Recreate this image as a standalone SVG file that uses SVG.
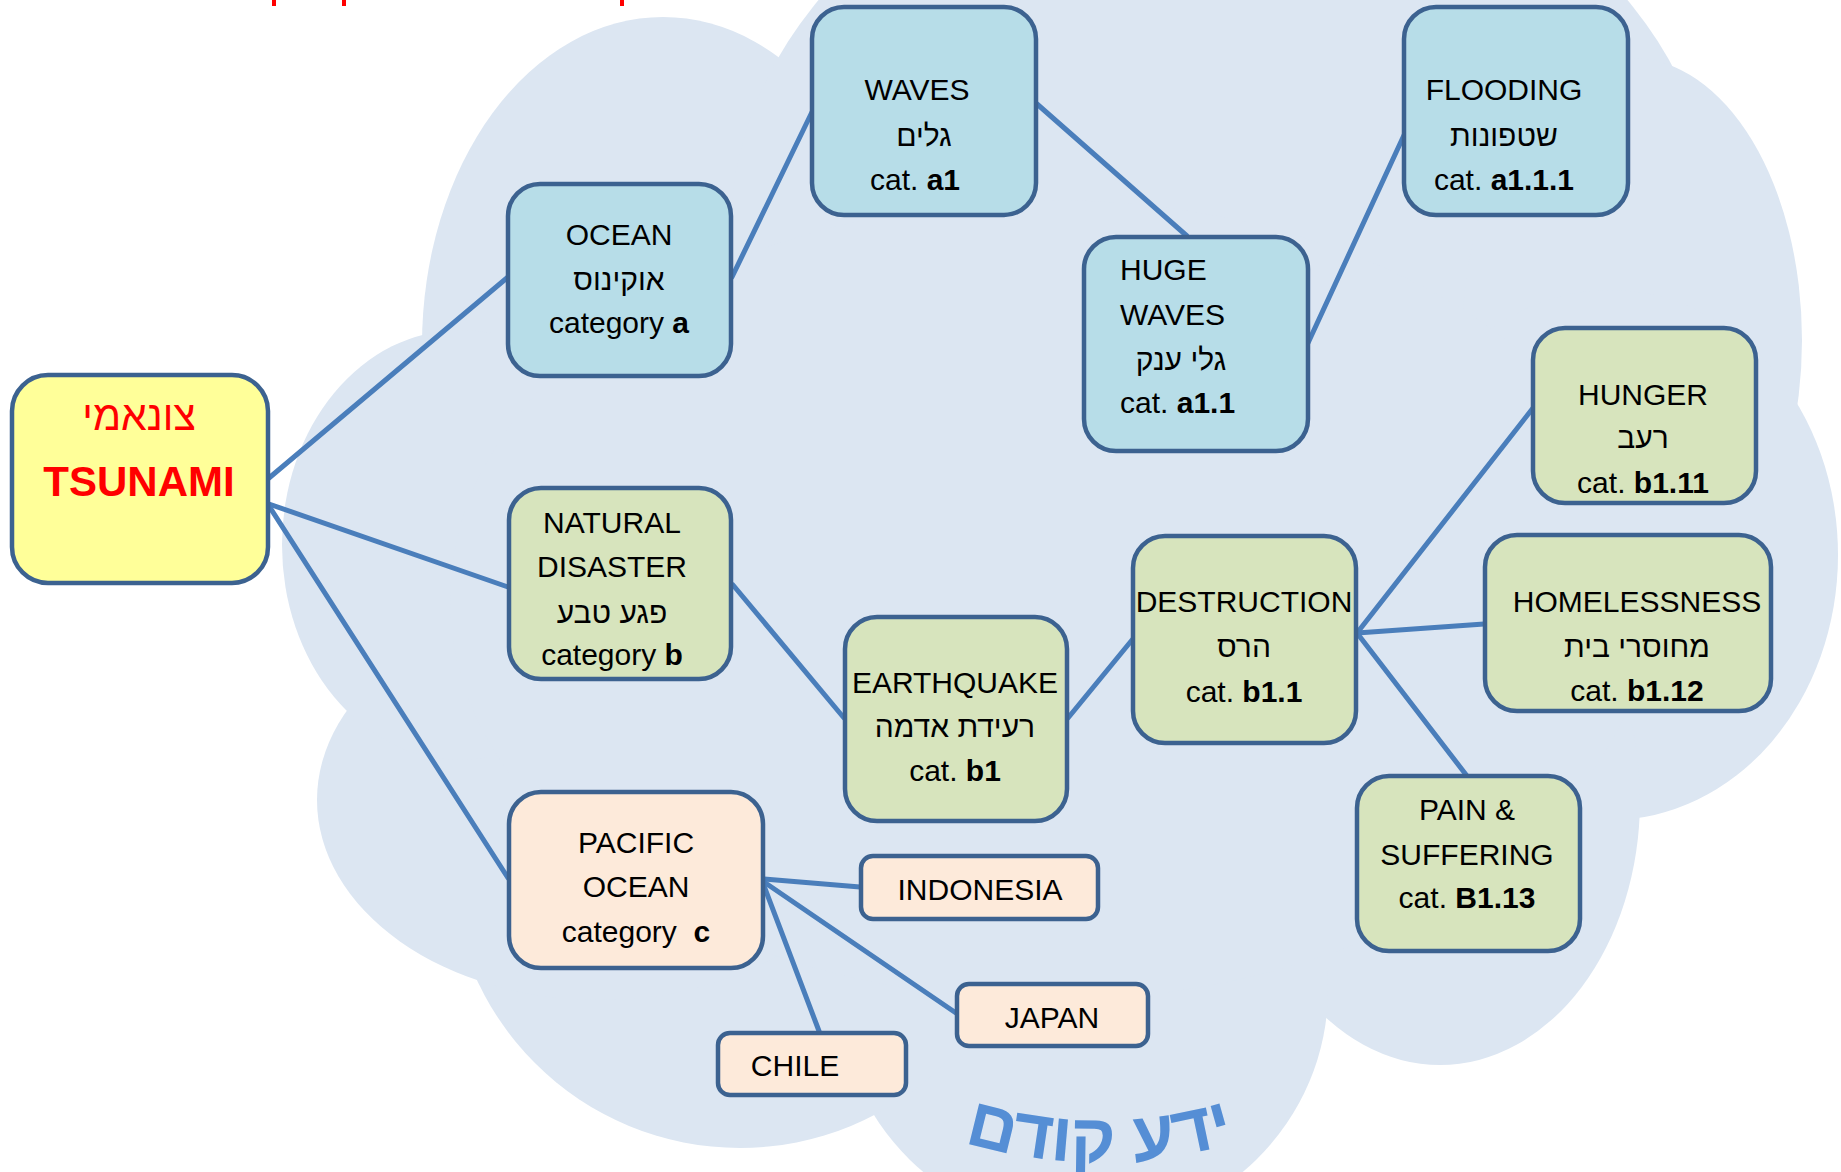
<svg xmlns="http://www.w3.org/2000/svg" width="1841" height="1172" viewBox="0 0 1841 1172">
<defs>
<style>
.cloud{fill:#DCE6F2;stroke:none}
.box{stroke:#3C6290;stroke-width:4.5}
.blue{fill:#B7DDE8}
.green{fill:#D7E4BD}
.peach{fill:#FDEADA}
.yellow{fill:#FFFF99}
.conn{stroke:#4A7EBB;stroke-width:5;stroke-linecap:round;fill:none}
text{font-family:"Liberation Sans","DejaVu Sans",sans-serif;font-size:30px;fill:#000;text-anchor:middle}
.b{font-weight:bold}
.red{fill:#FF0000}
.big{font-size:69px;font-weight:bold;fill:#558ED5}
</style>
<path id="arc" d="M 945 1136 A 470 470 0 0 0 1255 1136"/>
</defs>
<rect width="1841" height="1172" fill="#FFFFFF"/>
<g id="cloud">
<ellipse class="cloud" cx="663" cy="345" rx="241" ry="328"/>
<ellipse class="cloud" cx="1223" cy="235" rx="493" ry="411"/>
<ellipse class="cloud" cx="1632" cy="340" rx="170" ry="282"/>
<ellipse class="cloud" cx="1610" cy="555" rx="228" ry="265"/>
<ellipse class="cloud" cx="1440" cy="800" rx="200" ry="265"/>
<ellipse class="cloud" cx="1083" cy="990" rx="245" ry="240"/>
<circle class="cloud" cx="740" cy="858" r="290"/>
<ellipse class="cloud" cx="600" cy="800" rx="283" ry="200"/>
<ellipse class="cloud" cx="460" cy="545" rx="178" ry="215"/>
<ellipse class="cloud" cx="1050" cy="600" rx="600" ry="400"/>
</g>
<g id="top-fragments" fill="#FF0000">
<rect x="272" y="0" width="4" height="6"/>
<rect x="342" y="0" width="4" height="6"/>
<rect x="620" y="0" width="4" height="6"/>
</g>
<g id="connectors">
<line class="conn" x1="269" y1="478" x2="508" y2="277"/>
<line class="conn" x1="269" y1="504" x2="508" y2="587"/>
<line class="conn" x1="269" y1="506" x2="508" y2="878"/>
<line class="conn" x1="732" y1="277" x2="812" y2="112"/>
<line class="conn" x1="1037" y1="104" x2="1187" y2="236"/>
<line class="conn" x1="1308" y1="343" x2="1405" y2="133"/>
<line class="conn" x1="733" y1="585" x2="844" y2="718"/>
<line class="conn" x1="1068" y1="718" x2="1132" y2="640"/>
<line class="conn" x1="1357" y1="633" x2="1533" y2="408"/>
<line class="conn" x1="1357" y1="633" x2="1484" y2="624"/>
<line class="conn" x1="1357" y1="633" x2="1467" y2="776"/>
<line class="conn" x1="764" y1="879" x2="860" y2="887"/>
<line class="conn" x1="764" y1="882" x2="956" y2="1013"/>
<line class="conn" x1="764" y1="886" x2="819" y2="1031"/>
</g>
<g id="node-tsunami">
<rect class="box yellow" x="12" y="375" width="256" height="208" rx="36"/>
<text class="red" x="139" y="430" style="font-size:41px">צונאמי</text>
<text class="red b" x="139" y="496" style="font-size:42px">TSUNAMI</text>
</g>
<g id="node-ocean">
<rect class="box blue" x="508" y="184" width="223" height="192" rx="32"/>
<text x="619" y="245">OCEAN</text>
<text x="619" y="290">אוקינוס</text>
<text x="619" y="333">category <tspan class="b">a</tspan></text>
</g>
<g id="node-waves">
<rect class="box blue" x="812" y="7" width="224" height="208" rx="32"/>
<text x="917" y="100">WAVES</text>
<text x="924" y="146">גלים</text>
<text x="915" y="190">cat. <tspan class="b">a1</tspan></text>
</g>
<g id="node-flooding">
<rect class="box blue" x="1404" y="7" width="224" height="208" rx="32"/>
<text x="1504" y="100">FLOODING</text>
<text x="1504" y="146">שטפונות</text>
<text x="1504" y="190">cat. <tspan class="b">a1.1.1</tspan></text>
</g>
<g id="node-hugewaves">
<rect class="box blue" x="1084" y="237" width="224" height="214" rx="32"/>
<text x="1120" y="280" style="text-anchor:start">HUGE</text>
<text x="1120" y="325" style="text-anchor:start">WAVES</text>
<text x="1181" y="370">גלי ענק</text>
<text x="1120" y="413" style="text-anchor:start">cat. <tspan class="b">a1.1</tspan></text>
</g>
<g id="node-natural">
<rect class="box green" x="509" y="488" width="222" height="191" rx="32"/>
<text x="612" y="533">NATURAL</text>
<text x="612" y="577">DISASTER</text>
<text x="612" y="623">פגע טבע</text>
<text x="612" y="665">category <tspan class="b">b</tspan></text>
</g>
<g id="node-earthquake">
<rect class="box green" x="845" y="617" width="222" height="204" rx="32"/>
<text x="955" y="693">EARTHQUAKE</text>
<text x="955" y="737">רעידת אדמה</text>
<text x="955" y="781">cat. <tspan class="b">b1</tspan></text>
</g>
<g id="node-destruction">
<rect class="box green" x="1133" y="536" width="223" height="207" rx="32"/>
<text x="1244" y="612">DESTRUCTION</text>
<text x="1244" y="657">הרס</text>
<text x="1244" y="702">cat. <tspan class="b">b1.1</tspan></text>
</g>
<g id="node-hunger">
<rect class="box green" x="1533" y="328" width="223" height="175" rx="32"/>
<text x="1643" y="405">HUNGER</text>
<text x="1643" y="448">רעב</text>
<text x="1643" y="493">cat. <tspan class="b">b1.11</tspan></text>
</g>
<g id="node-homelessness">
<rect class="box green" x="1485" y="535" width="286" height="176" rx="32"/>
<text x="1637" y="612">HOMELESSNESS</text>
<text x="1637" y="657">מחוסרי בית</text>
<text x="1637" y="701">cat. <tspan class="b">b1.12</tspan></text>
</g>
<g id="node-pain">
<rect class="box green" x="1357" y="776" width="223" height="175" rx="32"/>
<text x="1467" y="820">PAIN &amp;</text>
<text x="1467" y="865">SUFFERING</text>
<text x="1467" y="908">cat. <tspan class="b">B1.13</tspan></text>
</g>
<g id="node-pacific">
<rect class="box peach" x="509" y="792" width="254" height="176" rx="32"/>
<text x="636" y="853">PACIFIC</text>
<text x="636" y="897">OCEAN</text>
<text x="636" y="942" xml:space="preserve">category  <tspan class="b">c</tspan></text>
</g>
<g id="node-indonesia">
<rect class="box peach" x="861" y="856" width="237" height="63" rx="12"/>
<text x="980" y="900">INDONESIA</text>
</g>
<g id="node-japan">
<rect class="box peach" x="957" y="984" width="191" height="62" rx="12"/>
<text x="1052" y="1028">JAPAN</text>
</g>
<g id="node-chile">
<rect class="box peach" x="718" y="1033" width="188" height="62" rx="12"/>
<text x="795" y="1076">CHILE</text>
</g>
<g id="label-prior-knowledge">
<text class="big"><textPath href="#arc" startOffset="50%">ידע קודם</textPath></text>
</g>
</svg>
